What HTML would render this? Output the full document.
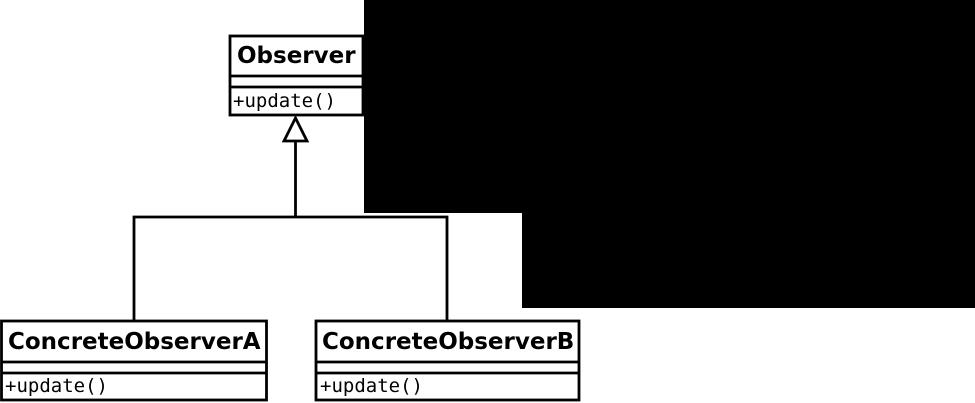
<!DOCTYPE html>
<html><head><style>
body{margin:0;width:975px;height:403px;background:#fff;overflow:hidden;position:relative}
</style></head><body>
<svg width="975" height="403" style="position:absolute;left:0;top:0">
<g fill="#fff" stroke="#000" stroke-width="2.8">
<rect x="230" y="36" width="133" height="79"/>
<line x1="230" y1="76" x2="363" y2="76"/>
<line x1="230" y1="87" x2="363" y2="87"/>
<rect x="1.5" y="321" width="265" height="79"/>
<line x1="1.5" y1="362" x2="266.5" y2="362"/>
<line x1="1.5" y1="373" x2="266.5" y2="373"/>
<rect x="316" y="321" width="263" height="79"/>
<line x1="316" y1="362" x2="579" y2="362"/>
<line x1="316" y1="373" x2="579" y2="373"/>
<polyline fill="none" points="134,321 134,217 447,217 447,321"/>
<line x1="295.5" y1="141" x2="295.5" y2="217"/>
<polygon points="295.5,118 284,141 307,141"/>
</g>
<g font-family="DejaVu Sans, Liberation Sans, sans-serif" font-weight="bold" font-size="23">
<text x="237" y="63">Observer</text>
<text x="8" y="349">ConcreteObserverA</text>
<text x="322" y="349">ConcreteObserverB</text>
</g>
<g font-family="DejaVu Sans Mono, Liberation Mono, monospace" font-size="19">
<text x="233" y="107">+update()</text>
<text x="5" y="392">+update()</text>
<text x="320" y="392">+update()</text>
</g>
<rect x="364" y="0" width="611" height="213" fill="#000"/>
<rect x="522" y="0" width="453" height="308" fill="#000"/>
</svg>
</body></html>
